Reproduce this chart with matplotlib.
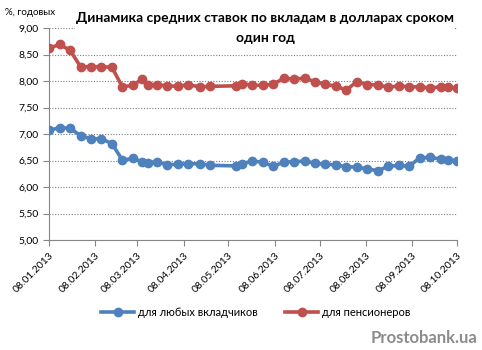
import numpy as np
import matplotlib
matplotlib.use('Agg')
import matplotlib.pyplot as plt
import matplotlib.dates as mdates

plt.rcParams['font.family'] = ['Lato', 'DejaVu Sans']

title = 'Динамика средних ставок по вкладам в долларах сроком\nодин год'
y_label = '%, годовых'
series_names = ['для любых вкладчиков', 'для пенсионеров']

dates = ['2013-01-08', '2013-01-15', '2013-01-22', '2013-01-29', '2013-02-05',
         '2013-02-12', '2013-02-19', '2013-02-26', '2013-03-05', '2013-03-11',
         '2013-03-15', '2013-03-21', '2013-03-28', '2013-04-04', '2013-04-11',
         '2013-04-19', '2013-04-26', '2013-05-13', '2013-05-17', '2013-05-24',
         '2013-05-31', '2013-06-07', '2013-06-14', '2013-06-21', '2013-06-28',
         '2013-07-05', '2013-07-12', '2013-07-19', '2013-07-26', '2013-08-02',
         '2013-08-09', '2013-08-16', '2013-08-23', '2013-08-30', '2013-09-06',
         '2013-09-13', '2013-09-20', '2013-09-27', '2013-10-02', '2013-10-08']

any_depositor = [7.07, 7.12, 7.11, 6.97, 6.91, 6.91, 6.82, 6.51, 6.54, 6.48,
                 6.46, 6.48, 6.42, 6.43, 6.44, 6.44, 6.41, 6.40, 6.44, 6.49,
                 6.47, 6.39, 6.47, 6.48, 6.49, 6.45, 6.43, 6.42, 6.38, 6.38,
                 6.34, 6.31, 6.39, 6.41, 6.39, 6.55, 6.56, 6.53, 6.51, 6.50]

pensioners = [8.62, 8.69, 8.58, 8.27, 8.27, 8.27, 8.26, 7.89, 7.92, 8.03,
              7.93, 7.93, 7.91, 7.90, 7.93, 7.89, 7.90, 7.91, 7.95, 7.92,
              7.92, 7.94, 8.05, 8.04, 8.05, 7.99, 7.94, 7.90, 7.83, 7.99,
              7.93, 7.93, 7.88, 7.91, 7.89, 7.89, 7.87, 7.89, 7.89, 7.86]

y_ticks = [5.0, 5.5, 6.0, 6.5, 7.0, 7.5, 8.0, 8.5, 9.0]

x = np.array(dates, dtype='datetime64[D]')

fig = plt.figure(figsize=(4.82, 3.5), dpi=100)
ax = fig.add_axes([0.102, 0.314, 0.846, 0.606])

ax.plot(x, any_depositor, color='#4F81BD', lw=2.6, marker='o', ms=6,
        label=series_names[0], zorder=3)
ax.plot(x, pensioners, color='#C0504D', lw=2.6, marker='o', ms=6,
        label=series_names[1], zorder=3)

ax.set_ylim(5.0, 9.0)
ax.set_yticks(y_ticks)
ax.set_yticklabels([('%.2f' % v).replace('.', ',') for v in y_ticks])
ax.set_xlim(np.datetime64('2013-01-08'), np.datetime64('2013-10-08'))
ax.xaxis.set_major_locator(mdates.MonthLocator(bymonthday=8))
ax.xaxis.set_major_formatter(mdates.DateFormatter('%d.%m.%Y'))
plt.setp(ax.get_xticklabels(), rotation=45, ha='right', rotation_mode='anchor')

ax.grid(axis='y', linestyle=(0, (1, 1.5)), color='#7f7f7f', lw=0.8)
ax.set_axisbelow(True)
for s in ['top', 'right']:
    ax.spines[s].set_visible(False)
for s in ['left', 'bottom']:
    ax.spines[s].set_color('#868686')
ax.tick_params(axis='both', colors='#868686', labelcolor='black',
               labelsize=7.5, length=4, width=0.8)

fig.text(0.01, 0.965, y_label, fontsize=7, va='center', ha='left')
fig.text(0.55, 0.92, title, fontsize=10, fontweight='bold', ha='center',
         va='center', linespacing=1.7,
         bbox=dict(facecolor='white', edgecolor='none', pad=1))

fig.legend(loc='center', bbox_to_anchor=(0.53, 0.108), ncol=2, frameon=False,
           fontsize=8, handlelength=3, columnspacing=2.5, handletextpad=0.3)

fig.text(0.99, 0.035, 'Prostobank.ua', fontsize=12, fontweight='bold',
         color='#8c8c8c', ha='right', va='center')

fig.savefig('out.png', dpi=100)
